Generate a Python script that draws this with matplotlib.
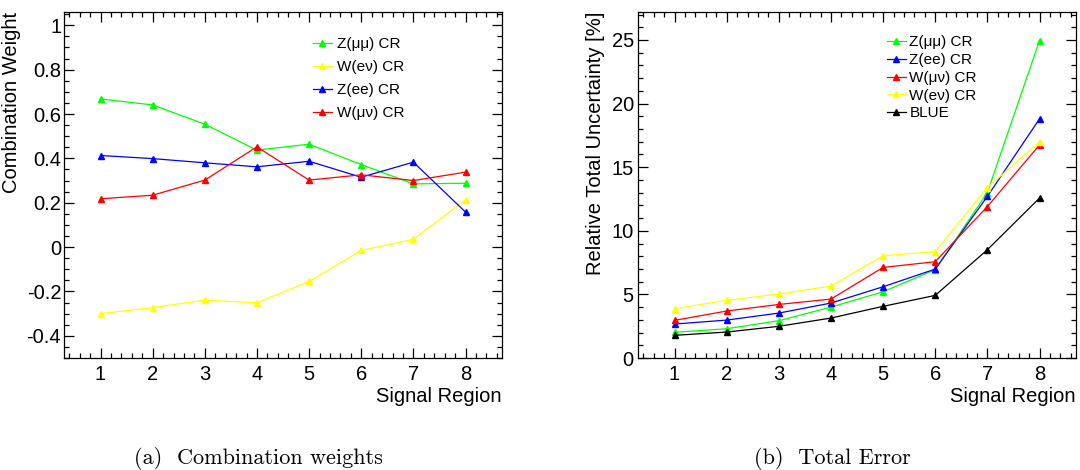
import numpy as np
import matplotlib
matplotlib.use("Agg")
import matplotlib.pyplot as plt
from matplotlib.ticker import MultipleLocator

plt.rcParams['font.family'] = ['Liberation Sans', 'DejaVu Sans']
plt.rcParams['axes.unicode_minus'] = False

# signal regions
regions = [1, 2, 3, 4, 5, 6, 7, 8]

# (a) combination weights
w_zmm = [0.668, 0.641, 0.554, 0.437, 0.464, 0.372, 0.285, 0.288]
w_wev = [-0.300, -0.273, -0.239, -0.251, -0.155, -0.015, 0.035, 0.213]
w_zee = [0.413, 0.399, 0.380, 0.362, 0.387, 0.315, 0.383, 0.158]
w_wmv = [0.218, 0.234, 0.302, 0.452, 0.302, 0.326, 0.300, 0.338]

# (b) relative total uncertainty [%]
e_zmm = [2.02, 2.30, 2.93, 4.00, 5.21, 6.94, 13.0, 24.95]
e_zee = [2.67, 2.98, 3.53, 4.32, 5.60, 6.99, 12.7, 18.8]
e_wmv = [2.96, 3.69, 4.21, 4.63, 7.12, 7.57, 11.9, 16.75]
e_wev = [3.87, 4.53, 5.03, 5.65, 8.04, 8.35, 13.4, 16.99]
e_blue = [1.78, 2.04, 2.49, 3.14, 4.06, 4.92, 8.51, 12.57]

GREEN, YELLOW, BLUE, RED = '#00ff00', '#ffff00', '#0000ff', '#ff0000'

fig = plt.figure(figsize=(10.8, 4.7), dpi=100)
ax1 = fig.add_axes([64/1080, 1 - 358/470, 438/1080, 346/470])
ax2 = fig.add_axes([638/1080, 1 - 358/470, 438/1080, 346/470])


def style(ax):
    ax.set_xlim(0.3, 8.7)
    ax.xaxis.set_major_locator(MultipleLocator(1))
    ax.xaxis.set_minor_locator(MultipleLocator(0.2))
    ax.tick_params(which='both', direction='in', top=True, right=True,
                   labelsize=14.5, width=0.9)
    ax.tick_params(which='major', length=7.5)
    ax.tick_params(which='minor', length=3.8)
    ax.tick_params(axis='x', pad=5)
    for s in ax.spines.values():
        s.set_linewidth(0.9)
    ax.set_xlabel('Signal Region', fontsize=14.5, loc='right', labelpad=2)


kw = dict(marker='^', markersize=5, linewidth=0.9)

ax1.plot(regions, w_zmm, color=GREEN, label='Z(μμ) CR', **kw)
ax1.plot(regions, w_wev, color=YELLOW, label='W(eν) CR', **kw)
ax1.plot(regions, w_zee, color=BLUE, label='Z(ee) CR', **kw)
ax1.plot(regions, w_wmv, color=RED, label='W(μν) CR', **kw)
style(ax1)
ax1.set_ylim(-0.5, 1.06)
ax1.yaxis.set_minor_locator(MultipleLocator(0.05))
ax1.set_yticks([-0.4, -0.2, 0, 0.2, 0.4, 0.6, 0.8, 1.0])
ax1.set_yticklabels(['-0.4', '-0.2', '0', '0.2', '0.4', '0.6', '0.8', '1'])
ax1.tick_params(axis='y', pad=2)
ax1.set_ylabel('Combination Weight', fontsize=14.5, loc='top', labelpad=4)
ax1.legend(loc='upper left', bbox_to_anchor=(0.55, 0.95), frameon=False,
           fontsize=11, handlelength=1.3, handletextpad=0.3,
           labelspacing=0.6, borderpad=0)

ax2.plot(regions, e_zmm, color=GREEN, label='Z(μμ) CR', **kw)
ax2.plot(regions, e_zee, color=BLUE, label='Z(ee) CR', **kw)
ax2.plot(regions, e_wmv, color=RED, label='W(μν) CR', **kw)
ax2.plot(regions, e_wev, color=YELLOW, label='W(eν) CR', **kw)
ax2.plot(regions, e_blue, color='black', label='BLUE', **kw)
style(ax2)
ax2.set_ylim(0, 27.2)
ax2.yaxis.set_major_locator(MultipleLocator(5))
ax2.yaxis.set_minor_locator(MultipleLocator(1))
ax2.tick_params(axis='y', pad=3)
ax2.set_ylabel('Relative Total Uncertainty [%]', fontsize=14.5, loc='top',
               labelpad=5)
ax2.legend(loc='upper left', bbox_to_anchor=(0.55, 0.955), frameon=False,
           fontsize=11, handlelength=1.3, handletextpad=0.2,
           labelspacing=0.25, borderpad=0)

fig.text(258/1080, 1 - 459/470, '(a)  Combination weights', family='cmr10',
         fontsize=16, ha='center', va='center')
fig.text(832/1080, 1 - 459/470, '(b)  Total Error', family='cmr10',
         fontsize=16, ha='center', va='center')

fig.savefig('out.png', dpi=100)
